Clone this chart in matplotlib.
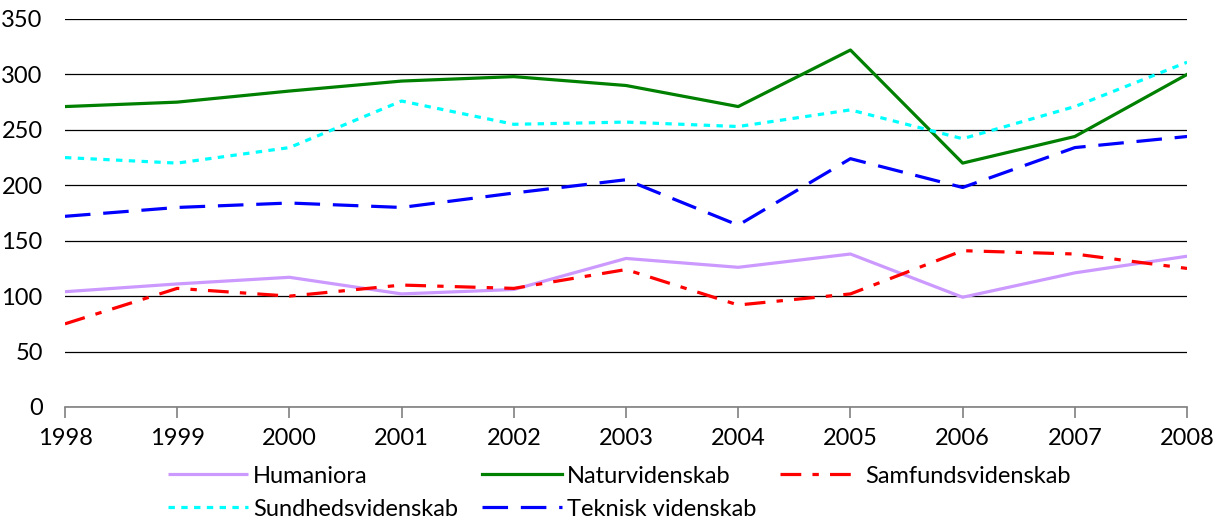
import matplotlib
matplotlib.use("Agg")
import matplotlib.pyplot as plt

years = [1998, 1999, 2000, 2001, 2002, 2003, 2004, 2005, 2006, 2007, 2008]
humaniora = [104, 111, 117, 102, 106, 134, 126, 138, 99, 121, 136]
naturvidenskab = [271, 275, 285, 294, 298, 290, 271, 322, 220, 244, 300]
samfundsvidenskab = [75, 107, 100, 110, 107, 124, 92, 102, 141, 138, 125]
sundhedsvidenskab = [225, 220, 234, 276, 255, 257, 253, 268, 242, 271, 311]
teknisk = [172, 180, 184, 180, 193, 205, 164, 224, 198, 234, 244]
y_ticks = [0, 50, 100, 150, 200, 250, 300, 350]

plt.rcParams['font.family'] = ['Lato', 'DejaVu Sans']

fig = plt.figure(figsize=(12.19, 5.23), dpi=100)
ax = fig.add_axes([0.0533, 0.2218, 0.9205, 0.7419])

lw = 2.3
h1, = ax.plot(years, humaniora, color='#CC99FF', lw=lw, label='Humaniora', solid_capstyle='butt')
h2, = ax.plot(years, naturvidenskab, color='#008000', lw=lw, label='Naturvidenskab')
h3, = ax.plot(years, samfundsvidenskab, color='#FF0000', lw=lw, label='Samfundsvidenskab',
              linestyle=(0, (6.5, 3.5, 2, 3.5)), dash_capstyle='butt')
h4, = ax.plot(years, sundhedsvidenskab, color='#00FFFF', lw=lw, label='Sundhedsvidenskab',
              linestyle=(0, (2, 2)), dash_capstyle='butt')
h5, = ax.plot(years, teknisk, color='#0000FF', lw=lw, label='Teknisk videnskab',
              linestyle=(0, (8, 4)), dash_capstyle='butt')

ax.set_xlim(1998, 2008)
ax.set_ylim(0, 350)
ax.set_yticks(y_ticks)
ax.set_xticks(years)
ax.yaxis.grid(True, color='black', lw=0.9)
ax.set_axisbelow(True)
for s in ['left', 'right', 'top']:
    ax.spines[s].set_visible(False)
ax.spines['bottom'].set_color('#808080')
ax.spines['bottom'].set_linewidth(1.2)
ax.tick_params(axis='y', length=0, labelsize=17, pad=16)
ax.tick_params(axis='x', length=8, width=1.2, color='#808080', direction='out', labelsize=17, pad=7)

handles = [h1, h4, h2, h5, h3]
fig.legend(handles=handles, labels=[h.get_label() for h in handles],
           loc='center', bbox_to_anchor=(0.508, 0.058), ncol=3, frameon=False,
           fontsize=17, handlelength=3.4, handletextpad=0.2, columnspacing=1.0,
           labelspacing=0.5, borderpad=0.1)

fig.savefig('out.png', dpi=100)
